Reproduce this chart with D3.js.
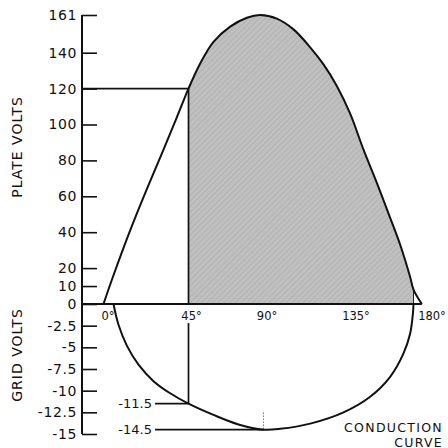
<!DOCTYPE html>
<html>
<head>
<meta charset="utf-8">
<script src="https://cdn.jsdelivr.net/npm/d3@7"></script>
<style>
  body { margin: 0; background: #fff; }
  svg { display: block; }
  text { font-family: "DejaVu Sans", sans-serif; fill: #111; }
</style>
</head>
<body>
<svg id="chart" width="448" height="448"></svg>
<script>
// ---- data ----
const plateDeg   = [-6, 0, 10, 20, 30, 38, 45, 52, 60, 70, 80, 88, 98, 108, 118, 126, 134, 142, 150, 158, 166, 172, 178, 180, 185];
const plateVolts = [0, 16, 41, 64, 86, 104, 120, 134, 146, 154.5, 159.5, 161, 159, 153, 143, 133.5, 121.5, 106, 86, 67.5, 48, 33, 15, 8, 0];
const gridDeg    = [0, 3, 8, 15, 24, 34, 45, 60, 75, 90, 100, 118, 138, 154, 166, 174, 178, 179.7, 180];
const gridVolts  = [0, -2.4, -4.8, -7.0, -8.9, -10.3, -11.5, -12.8, -13.9, -14.5, -14.4, -13.8, -12.5, -10.7, -8.4, -5.7, -3.4, -1.0, 0];
const plateTicks = [161, 140, 120, 100, 80, 60, 40, 20, 10, 0];
const gridTicks  = [-2.5, -5, -7.5, -10, -12.5, -15];
const degTicks   = [0, 45, 90, 135, 180];
const degLabels  = ["0°", "45°", "90°", "135°", "180°"];
const conductionStart = 45, conductionEnd = 180;
const plateAtStart = 120;
const gridAtStart = -11.5, gridPeak = -14.5, gridPeakDeg = 90;

// ---- layout ----
const axisX = 82;
const degLabelShift = [-6, 2.5, 3, 17, 18];

const svg = d3.select("#chart");
const x = d3.scaleLinear().domain([0, 180]).range([113.5, 413.5]);
const yP = d3.scaleLinear().domain([0, 161]).range([304, 15]);
const yG = d3.scaleLinear().domain([0, -15]).range([304, 434]);

// pattern for shaded conduction area
const defs = svg.append("defs");
const pat = defs.append("pattern").attr("id", "hatch").attr("patternUnits", "userSpaceOnUse")
  .attr("width", 4).attr("height", 4).attr("patternTransform", "rotate(45)");
pat.append("rect").attr("width", 4).attr("height", 4).attr("fill", "#c0c0c0");
pat.append("line").attr("x1", 0).attr("y1", 0).attr("x2", 0).attr("y2", 4)
  .attr("stroke", "#a4a4a4").attr("stroke-width", 1);

const plate = plateDeg.map((d, i) => ({ d, v: plateVolts[i] }));
const grid = gridDeg.map((d, i) => ({ d, v: gridVolts[i] }));
const curve = d3.curveCatmullRom.alpha(0.5);

// shaded area
const shaded = plate.filter(p => p.d >= conductionStart && p.d <= conductionEnd);
svg.append("path").datum(shaded)
  .attr("d", d3.area().x(p => x(p.d)).y0(yP(0)).y1(p => yP(p.v)).curve(curve))
  .attr("fill", "url(#hatch)").attr("stroke", "none");

// right edge of shaded area
svg.append("line").attr("x1", x(conductionEnd)).attr("x2", x(conductionEnd))
  .attr("y1", yP(shaded[shaded.length - 1].v)).attr("y2", yP(0))
  .attr("stroke", "#222").attr("stroke-width", 1);

// plate curve
svg.append("path").datum(plate)
  .attr("d", d3.line().x(p => x(p.d)).y(p => yP(p.v)).curve(curve))
  .attr("fill", "none").attr("stroke", "#111").attr("stroke-width", 2);

// grid curve
svg.append("path").datum(grid)
  .attr("d", d3.line().x(p => x(p.d)).y(p => yG(p.v)).curve(curve))
  .attr("fill", "none").attr("stroke", "#111").attr("stroke-width", 2);

// guide lines
const guide = svg.append("g").attr("stroke", "#111").attr("stroke-width", 1.7);
guide.append("line").attr("x1", axisX).attr("x2", x(conductionStart)).attr("y1", yP(plateAtStart)).attr("y2", yP(plateAtStart));
guide.append("line").attr("x1", x(conductionStart)).attr("x2", x(conductionStart)).attr("y1", yP(plateAtStart)).attr("y2", yP(0));
guide.append("line").attr("x1", x(conductionStart)).attr("x2", x(conductionStart)).attr("y1", yG(-2.2)).attr("y2", yG(gridAtStart));
guide.append("line").attr("x1", 155).attr("x2", x(conductionStart)).attr("y1", yG(gridAtStart)).attr("y2", yG(gridAtStart));
guide.append("line").attr("x1", 155).attr("x2", x(gridPeakDeg)).attr("y1", yG(gridPeak)).attr("y2", yG(gridPeak));
svg.append("line").attr("x1", x(gridPeakDeg)).attr("x2", x(gridPeakDeg)).attr("y1", yG(gridPeak) - 17).attr("y2", yG(gridPeak))
  .attr("stroke", "#333").attr("stroke-width", 1).attr("stroke-dasharray", "1,2");

// axes
const fmt = v => String(v).replace("−", "-");
const gP = svg.append("g").attr("transform", `translate(${axisX},0)`)
  .call(d3.axisLeft(yP).tickValues(plateTicks).tickSizeInner(-15).tickSizeOuter(0).tickPadding(5).tickFormat(fmt));
const gG = svg.append("g").attr("transform", `translate(${axisX},0)`)
  .call(d3.axisLeft(yG).tickValues(gridTicks).tickSizeInner(-15).tickSizeOuter(0).tickPadding(5).tickFormat(fmt));
[gP, gG].forEach(g => {
  g.select(".domain").remove();
  g.selectAll("line").attr("stroke", "#111").attr("stroke-width", 1.6);
  g.selectAll("text").attr("font-size", 14).attr("letter-spacing", 0.6)
    .style("font-family", "DejaVu Sans").attr("fill", "#111");
});
svg.append("line").attr("x1", axisX).attr("x2", axisX).attr("y1", yP(161)).attr("y2", yG(-15))
  .attr("stroke", "#111").attr("stroke-width", 2);
svg.append("line").attr("x1", axisX).attr("x2", x(185)).attr("y1", yP(0)).attr("y2", yP(0))
  .attr("stroke", "#111").attr("stroke-width", 2);

const gX = svg.append("g").attr("transform", `translate(0,${yP(0)})`)
  .call(d3.axisBottom(x).tickValues(degTicks).tickSize(0).tickPadding(8).tickFormat((d, i) => degLabels[i]));
gX.select(".domain").remove();
gX.selectAll("text").attr("font-size", 11.5).attr("dx", (d, i) => degLabelShift[i])
  .style("font-family", "DejaVu Sans").attr("fill", "#111");

// labels
svg.append("text").attr("transform", `translate(22,147) rotate(-90)`).attr("text-anchor", "middle")
  .attr("font-size", 14).attr("letter-spacing", 1).text("PLATE VOLTS");
svg.append("text").attr("transform", `translate(22,355) rotate(-90)`).attr("text-anchor", "middle")
  .attr("font-size", 14).attr("letter-spacing", 1).text("GRID VOLTS");
svg.append("text").attr("x", 152).attr("y", yG(gridAtStart)).attr("dy", "0.35em").attr("text-anchor", "end")
  .attr("font-size", 13).text("-11.5");
svg.append("text").attr("x", 152).attr("y", yG(gridPeak)).attr("dy", "0.35em").attr("text-anchor", "end")
  .attr("font-size", 13).text("-14.5");
svg.append("text").attr("x", 443).attr("y", 432).attr("text-anchor", "end")
  .attr("font-size", 12.5).attr("letter-spacing", 1.3).text("CONDUCTION");
svg.append("text").attr("x", 443).attr("y", 446.5).attr("text-anchor", "end")
  .attr("font-size", 12.5).attr("letter-spacing", 1.3).text("CURVE");
</script>
</body>
</html>
